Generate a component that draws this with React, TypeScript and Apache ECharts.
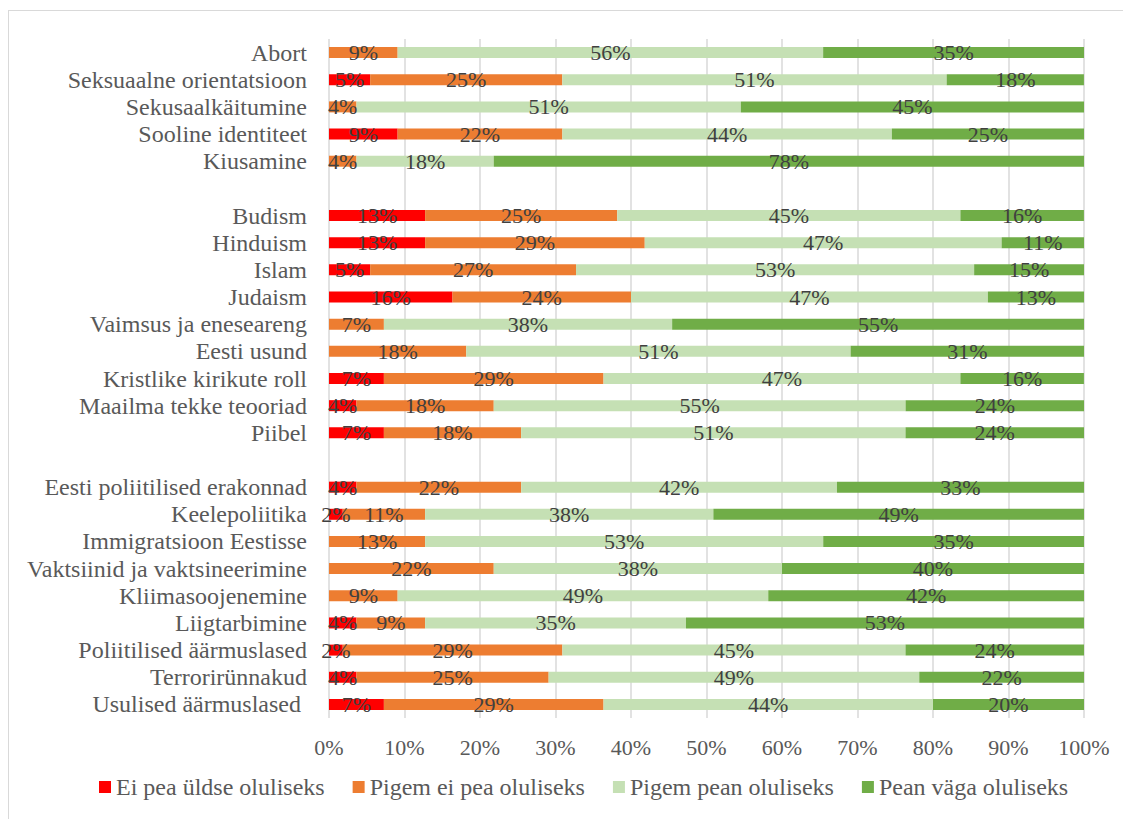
import React, { useEffect, useRef } from "react";
import * as echarts from "echarts";

const categories = [
  "Abort",
  "Seksuaalne orientatsioon",
  "Sekusaalkäitumine",
  "Sooline identiteet",
  "Kiusamine",
  "",
  "Budism",
  "Hinduism",
  "Islam",
  "Judaism",
  "Vaimsus ja eneseareng",
  "Eesti usund",
  "Kristlike kirikute roll",
  "Maailma tekke teooriad",
  "Piibel",
  " ",
  "Eesti poliitilised erakonnad",
  "Keelepoliitika",
  "Immigratsioon Eestisse",
  "Vaktsiinid ja vaktsineerimine",
  "Kliimasoojenemine",
  "Liigtarbimine",
  "Poliitilised äärmuslased",
  "Terrorirünnakud",
  "Usulised äärmuslased ",
];

const seriesNames = [
  "Ei pea üldse oluliseks",
  "Pigem ei pea oluliseks",
  "Pigem pean oluliseks",
  "Pean väga oluliseks",
];

const eiPeaUldse = [
  0, 5.45, 0, 9.09, 0, null, 12.73, 12.73, 5.45, 16.36, 0, 0, 7.27, 3.64, 7.27, null,
  3.64, 1.82, 0, 0, 0, 3.64, 1.82, 3.64, 7.27,
];
const pigemEiPea = [
  9.09, 25.45, 3.64, 21.82, 3.64, null, 25.45, 29.09, 27.27, 23.64, 7.27, 18.18, 29.09,
  18.18, 18.18, null, 21.82, 10.91, 12.73, 21.82, 9.09, 9.09, 29.09, 25.45, 29.09,
];
const pigemPean = [
  56.36, 50.91, 50.91, 43.64, 18.18, null, 45.45, 47.27, 52.73, 47.27, 38.18, 50.91,
  47.27, 54.55, 50.91, null, 41.82, 38.18, 52.73, 38.18, 49.09, 34.55, 45.45, 49.09, 43.64,
];
const peanVaga = [
  34.55, 18.18, 45.45, 25.45, 78.18, null, 16.36, 10.91, 14.55, 12.73, 54.55, 30.91,
  16.36, 23.64, 23.64, null, 32.73, 49.09, 34.55, 40.0, 41.82, 52.73, 23.64, 21.82, 20.0,
];

const colors = ["#FF0000", "#ED7D31", "#C5E0B4", "#70AD47"];
const FONT = "Liberation Serif";

export default function App() {
  const ref = useRef<HTMLDivElement>(null);
  useEffect(() => {
    if (!ref.current) return;
    const chart = echarts.init(ref.current, null, { renderer: "svg" });
    const values = [eiPeaUldse, pigemEiPea, pigemPean, peanVaga];
    chart.setOption({
      animation: false,
      textStyle: { fontFamily: FONT },
      grid: { left: 320, right: 47, top: 28, bottom: 101, containLabel: false },
      legend: {
        data: seriesNames,
        left: 85,
        top: 759,
        itemWidth: 12,
        itemHeight: 12,
        itemGap: 28,
        icon: "rect",
        textStyle: { fontSize: 24, color: "#595959", fontFamily: FONT },
      },
      xAxis: {
        type: "value",
        min: 0,
        max: 100,
        interval: 10,
        axisLine: { show: false },
        axisTick: { show: false },
        axisLabel: {
          formatter: "{value}%",
          fontSize: 22,
          color: "#595959",
          fontFamily: FONT,
          margin: 18,
        },
        splitLine: { show: true, lineStyle: { color: "#d9d9d9", width: 1.5 } },
      },
      yAxis: {
        type: "category",
        data: categories,
        inverse: true,
        axisLine: { show: false },
        axisTick: { show: false },
        axisLabel: {
          fontSize: 24,
          color: "#595959",
          fontFamily: FONT,
          margin: 22,
          interval: 0,
          formatter: (v: string) => v.replace(/ $/, "\u00a0"),
        },
      },
      series: seriesNames.map((name, i) => ({
        name,
        type: "bar",
        stack: "total",
        barWidth: 11,
        data: values[i],
        itemStyle: { color: colors[i] },
        label: {
          show: true,
          position: "inside",
          fontSize: 22,
          color: "#404040",
          fontFamily: FONT,
          formatter: (p: any) =>
            p.value != null && p.value > 0 ? Math.round(p.value) + "%" : "",
        },
      })),
    });
    return () => chart.dispose();
  }, []);
  return (
    <div
      style={{
        marginTop: 2,
        borderLeft: "1px solid #d9d9d9",
        borderTop: "1px solid #d9d9d9",
        width: 1122,
        height: 808,
      }}
    >
      <div ref={ref} style={{ width: 1122, height: 808 }} />
    </div>
  );
}
